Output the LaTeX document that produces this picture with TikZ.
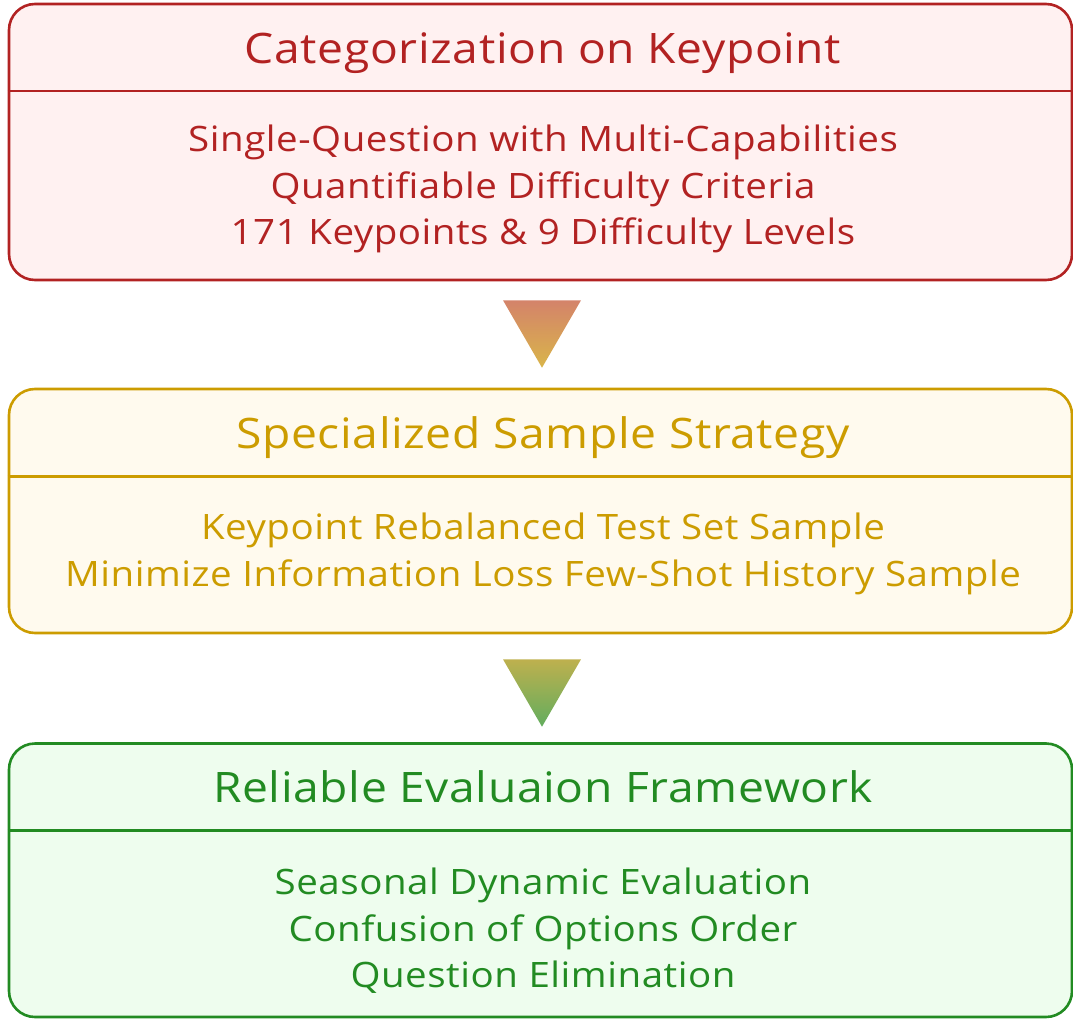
\documentclass[tikz,border=0pt]{standalone}
\usepackage{fontspec}
\setmainfont{Open Sans}[FakeStretch=1.10, LetterSpace=1.5]
\usepackage{xcolor}
\usetikzlibrary{calc, positioning}

\definecolor{catLine}{HTML}{B22222}
\definecolor{catFill}{HTML}{FFF1F1}
\definecolor{smpLine}{HTML}{CC9C00}
\definecolor{smpFill}{HTML}{FFFAEE}
\definecolor{evlLine}{HTML}{228B22}
\definecolor{evlFill}{HTML}{EEFDEE}

\begin{document}
\begin{tikzpicture}[x=1pt, y=-1pt,
		stage/.style={rectangle, rounded corners=26, minimum width=1063, line width=2.6},
		stagetitle/.style={font=\fontsize{42}{50}\selectfont, anchor=base, inner sep=0},
		stageline/.style={font=\fontsize{35}{42}\selectfont, anchor=base, inner sep=0}]
			\useasboundingbox (0,0) rectangle (1073,1019);
			\def\xmid{540.5};
			\def\xtext{543};
			\def\lineskip{46.5};

			\newcommand{\drawStage}[8]
			{
				% #1 name, #2 top, #3 height, #4 header, #5 colour, #6 title, #7 first line, #8 lines
				\node [stage, draw=#5Line, fill=#5Fill, minimum height=#3] (#1) at (\xmid, #2 + #3/2) {};
				\coordinate (#1 div) at ($ (#1.north) + (0,#4) $);
				\draw [#5Line, line width=2.6] (#1.west |- #1 div) -- (#1.east |- #1 div);
				\node [stagetitle, text=#5Line] (#1 title) at (\xtext, #2 + #4/2 + 15) {#6};
				\foreach \txt [count=\i] in {#8}
				{
					\node [stageline, text=#5Line] (#1 line \i) at ($ (\xtext, 0 |- #1 div) + (0, #7 + \lineskip*\i - \lineskip) $) {\txt};
				}
			}

			\begin{scope}
				\drawStage{cat}{4}{276}{88.5}{cat}{Categorization on Keypoint}{60.5}
					{Single-Question with Multi-Capabilities, Quantifiable Difficulty Criteria, 171 Keypoints \& 9 Difficulty Levels};
				\drawStage{smp}{389}{244}{89}{smp}{Specialized Sample Strategy}{63}
					{Keypoint Rebalanced Test Set Sample, Minimize Information Loss Few-Shot History Sample};
				\drawStage{evl}{743.5}{273.5}{88.5}{evl}{Reliable Evaluaion Framework}{64}
					{Seasonal Dynamic Evaluation, Confusion of Options Order, Question Elimination};
			\end{scope}

			% arrows between the stages
			\begin{scope}
				\coordinate (a1 l) at ($ (cat.south) + (-37.5,19) $);
				\coordinate (a1 r) at ($ (cat.south) + (40.5,19) $);
				\coordinate (a1 tip) at ($ (smp.north) + (1.5,-20) $);
				\shade [top color={rgb,255:red,212;green,131;blue,106}, bottom color={rgb,255:red,217;green,181;blue,74}] (a1 l) -- (a1 r) -- (a1 tip) -- cycle;

				\coordinate (a2 l) at ($ (smp.south) + (-37.5,25) $);
				\coordinate (a2 r) at ($ (smp.south) + (40.5,25) $);
				\coordinate (a2 tip) at ($ (evl.north) + (1.5,-15.5) $);
				\shade [top color={rgb,255:red,190;green,176;blue,78}, bottom color={rgb,255:red,98;green,173;blue,94}] (a2 l) -- (a2 r) -- (a2 tip) -- cycle;
			\end{scope}
		\end{tikzpicture}
\end{document}
